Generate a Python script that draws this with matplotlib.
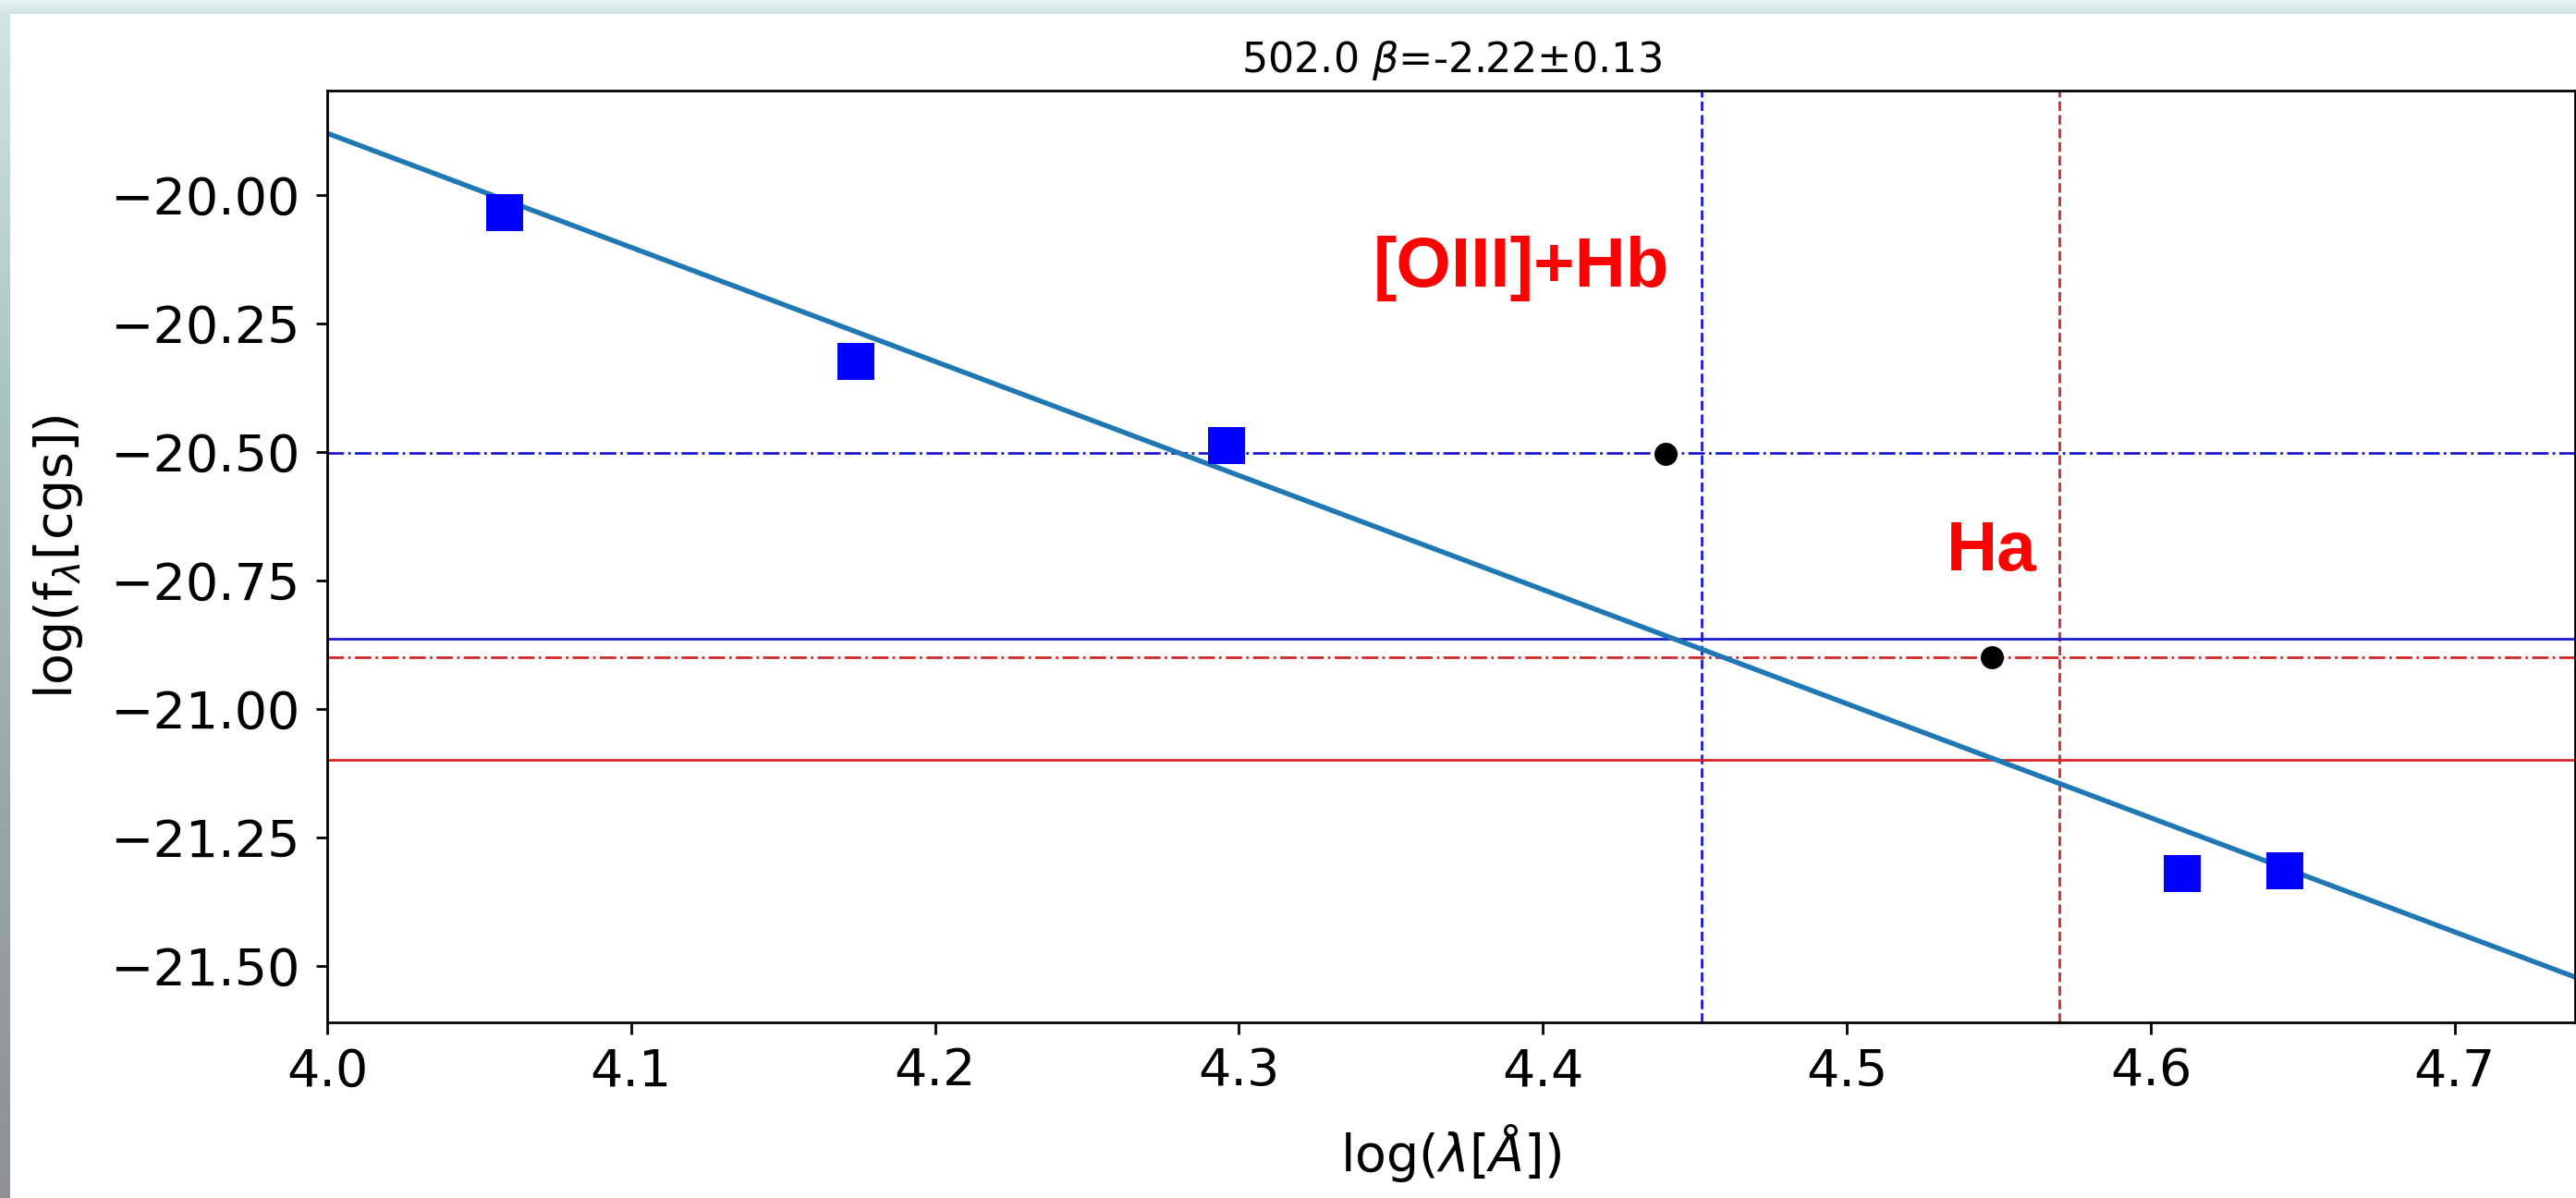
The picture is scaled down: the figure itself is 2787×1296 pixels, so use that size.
import numpy as np
import matplotlib
matplotlib.use("Agg")
import matplotlib.pyplot as plt
from matplotlib.ticker import MultipleLocator
from matplotlib.colors import LinearSegmentedColormap

# Photometric points (log wavelength in Angstrom, log f_lambda in cgs)
phot_logwl = [4.0584, 4.1738, 4.2959, 4.6104, 4.6442]
phot_logf = [-20.034, -20.324, -20.487, -21.320, -21.315]

# Band fluxes at the emission-line positions
line_logwl = [4.4404, 4.5477]
line_logf = [-20.503, -20.900]

# Emission-line wavelengths (log Angstrom)
oiii_hb_logwl = 4.4521
ha_logwl = 4.5699

# Horizontal reference levels
oiii_band_level = -20.502
oiii_cont_level = -20.863
ha_band_level = -20.900
ha_cont_level = -21.100

# Power-law fit: log f = intercept + beta * log lambda
beta = -2.22
beta_err = 0.13
intercept = -11.0
obj_id = "502.0"

W, H = 2787, 1296
fig = plt.figure(figsize=(W / 100, H / 100), dpi=100)
fig.patch.set_facecolor("white")

ax = fig.add_axes([354 / W, 1 - 1106 / H, (2786 - 354) / W, (1106 - 98) / H])

fit_x = np.array([3.9, 4.8])
ax.plot(fit_x, intercept + beta * fit_x, color="#1f77b4", lw=3.9, zorder=2)

ax.plot(phot_logwl, phot_logf, ls="none", marker="s", ms=29, mew=0,
        color="#0000ff", zorder=4)
ax.plot(line_logwl, line_logf, ls="none", marker="o", ms=18, mew=0,
        color="black", zorder=4)

ax.axvline(oiii_hb_logwl, color="#1a1ad0", ls="--", lw=2.0, zorder=1)
ax.axvline(ha_logwl, color="#d62728", ls="--", lw=2.0, zorder=1)
ax.axhline(oiii_band_level, color="#1a1ad0", ls="-.", lw=2.0, zorder=1)
ax.axhline(oiii_cont_level, color="#1a1ad0", ls="-", lw=2.0, zorder=1)
ax.axhline(ha_band_level, color="#d62728", ls="-.", lw=2.0, zorder=1)
ax.axhline(ha_cont_level, color="#d62728", ls="-", lw=2.0, zorder=1)

label_font = dict(family="Liberation Sans", weight="bold", size=55, color="#ff0000")
ax.text(4.3443, -20.178, "[OIII]+Hb", ha="left", va="baseline", **label_font)
ax.text(4.5327, -20.730, "Ha", ha="left", va="baseline", **label_font)

ax.set_xlim(4.0, 4.7396)
ax.set_ylim(-21.610, -19.797)
ax.xaxis.set_major_locator(MultipleLocator(0.1))
ax.yaxis.set_major_locator(MultipleLocator(0.25))

ax.tick_params(axis="both", labelsize=40, length=9, width=2.0)
ax.tick_params(axis="y", pad=12)
ax.tick_params(axis="x", pad=10)
for sp in ax.spines.values():
    sp.set_linewidth(2.0)

ax.set_xlabel(r"log($\lambda[\AA]$)", fontsize=40, labelpad=20)
ax.set_ylabel(r"log(f$_\lambda$[cgs])", fontsize=40, labelpad=20)
ax.set_title(obj_id + r" $\beta$=" + f"{beta:.2f}\u00b1{beta_err:.2f}",
             fontsize=32, pad=14.4)

# Window frame strips along the top and left edges
top_cmap = LinearSegmentedColormap.from_list("top", ["#e3f6f4", "#dcefed", "#cfe2e0"])
ax_top = fig.add_axes([0, 1 - 15 / H, 1, 15 / H])
ax_top.imshow(np.linspace(0, 1, 16).reshape(-1, 1), aspect="auto", cmap=top_cmap)
ax_top.set_axis_off()

left_cmap = LinearSegmentedColormap.from_list("left", ["#cfe4e3", "#a9c2c2", "#9aa6aa", "#8e9096"])
ax_left = fig.add_axes([0, 0, 11 / W, 1 - 15 / H])
ax_left.imshow(np.linspace(0, 1, 64).reshape(-1, 1), aspect="auto", cmap=left_cmap)
ax_left.set_axis_off()

fig.savefig("out.png", dpi=100)
